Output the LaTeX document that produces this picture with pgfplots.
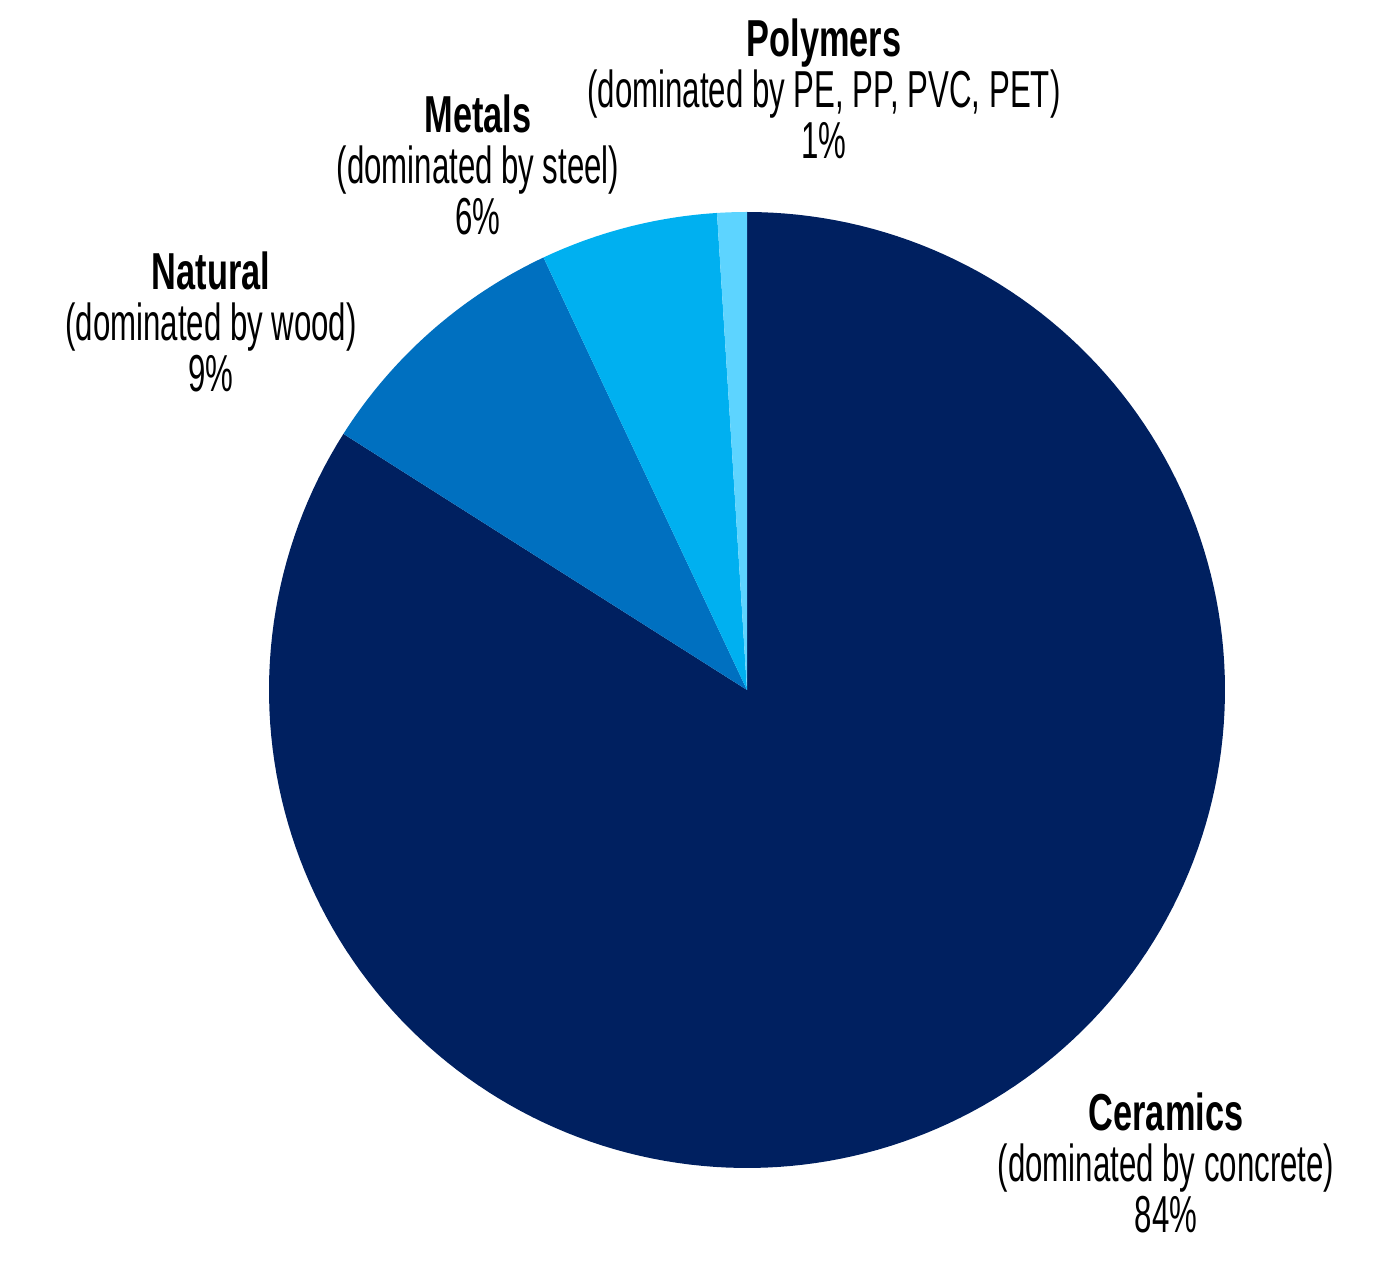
\documentclass[border=0pt]{standalone}
\usepackage{fontspec}
\setmainfont{Liberation Sans}[FakeStretch=0.6, BoldFeatures={FakeStretch=0.66}]
\usepackage{pgfplots}
\pgfplotsset{compat=1.18}
\usepgfplotslibrary{polar}
\definecolor{cCer}{RGB}{0,32,96}
\definecolor{cNat}{RGB}{0,112,192}
\definecolor{cMet}{RGB}{0,176,240}
\definecolor{cPol}{RGB}{93,212,255}
\begin{document}
\begin{tikzpicture}
\path[use as bounding box] (0,0) rectangle (688pt,633.5pt);
% shares: Ceramics 84, Natural 9, Metals 6, Polymers 1 (clockwise from 90 deg)
\begin{polaraxis}[
  at={(373.5pt,288.5pt)}, anchor=center,
  scale only axis, width=478pt, height=478pt,
  xmin=0, xmax=360, ymin=0, ymax=1,
  hide axis, clip=false,
  xtick=\empty, ytick=\empty,
]
\addplot[draw=none, fill=cCer, domain=-212.4:90, samples=200] {1} -- (axis cs:0,0) -- cycle;
\addplot[draw=none, fill=cNat, domain=115.2:147.6, samples=40] {1} -- (axis cs:0,0) -- cycle;
\addplot[draw=none, fill=cMet, domain=93.6:115.2, samples=30] {1} -- (axis cs:0,0) -- cycle;
\addplot[draw=none, fill=cPol, domain=90:93.6, samples=10] {1} -- (axis cs:0,0) -- cycle;
\end{polaraxis}
\tikzset{lab/.style={align=center, font=\fontsize{26}{25.5}\selectfont, inner sep=0pt, anchor=center}}
\node[lab] at (412pt,589pt) {\textbf{Polymers}\\(dominated by PE, PP, PVC, PET)\\1\%};
\node[lab] at (239pt,551pt) {\textbf{Metals}\\(dominated by steel)\\6\%};
\node[lab] at (105.5pt,472.5pt) {\textbf{Natural}\\(dominated by wood)\\9\%};
\node[lab] at (583pt,52pt) {\textbf{Ceramics}\\(dominated by concrete)\\84\%};
\end{tikzpicture}
\end{document}
